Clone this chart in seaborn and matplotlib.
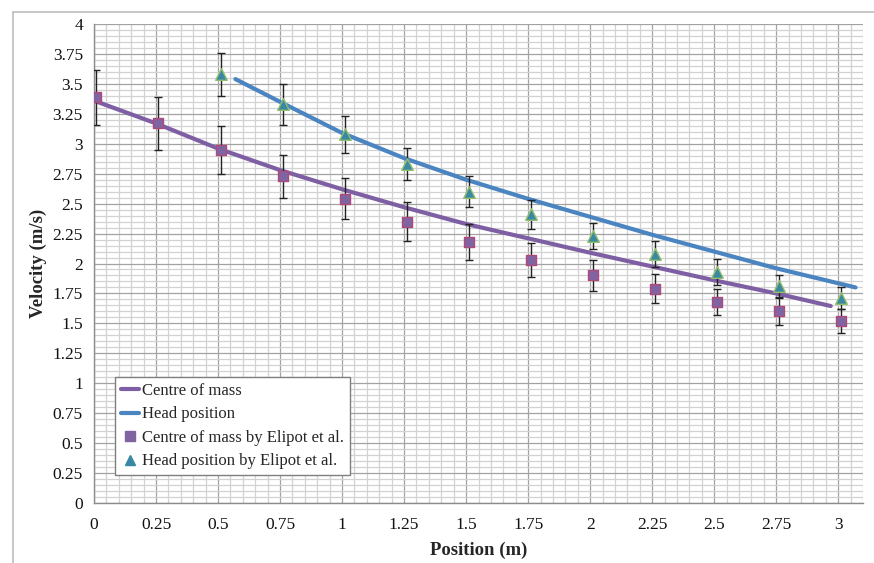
import numpy as np
import pandas as pd
import matplotlib
matplotlib.use("Agg")
import matplotlib.pyplot as plt
from matplotlib.lines import Line2D
from matplotlib.ticker import MultipleLocator
import seaborn as sns

# Model curves
com_x = [0.0, 0.25, 0.5, 0.75, 1.0, 1.25, 1.5, 1.75, 2.0, 2.25, 2.5, 2.75, 2.97]
com_v = [3.36, 3.17, 2.96, 2.78, 2.62, 2.47, 2.33, 2.21, 2.09, 1.975, 1.86, 1.75, 1.645]
head_x = [0.57, 0.75, 1.0, 1.25, 1.5, 1.75, 2.0, 2.25, 2.5, 2.75, 3.07]
head_v = [3.54, 3.35, 3.09, 2.88, 2.70, 2.54, 2.39, 2.24, 2.10, 1.96, 1.80]

# Measurements by Elipot et al.
com_obs_x = [0.01, 0.26, 0.51, 0.76, 1.01, 1.26, 1.51, 1.76, 2.01, 2.26, 2.51, 2.76, 3.01]
com_obs_v = [3.39, 3.17, 2.95, 2.73, 2.54, 2.35, 2.18, 2.03, 1.90, 1.79, 1.68, 1.60, 1.52]
com_obs_err = [0.23, 0.22, 0.20, 0.18, 0.17, 0.16, 0.15, 0.14, 0.13, 0.12, 0.11, 0.11, 0.10]
head_obs_x = [0.51, 0.76, 1.01, 1.26, 1.51, 1.76, 2.01, 2.26, 2.51, 2.76, 3.01]
head_obs_v = [3.58, 3.33, 3.08, 2.83, 2.60, 2.41, 2.23, 2.08, 1.93, 1.81, 1.71]
head_obs_err = [0.18, 0.17, 0.155, 0.135, 0.13, 0.12, 0.11, 0.11, 0.11, 0.09, 0.09]

x_ticks = [0, 0.25, 0.5, 0.75, 1, 1.25, 1.5, 1.75, 2, 2.25, 2.5, 2.75, 3]
x_tick_labels = ["0", "0.25", "0.5", "0.75", "1", "1.25", "1.5", "1.75", "2", "2.25", "2.5", "2.75", "3"]
y_ticks = [0, 0.25, 0.5, 0.75, 1, 1.25, 1.5, 1.75, 2, 2.25, 2.5, 2.75, 3, 3.25, 3.5, 3.75, 4]
y_tick_labels = ["0", "0.25", "0.5", "0.75", "1", "1.25", "1.5", "1.75", "2", "2.25", "2.5", "2.75", "3", "3.25", "3.5", "3.75", "4"]

PURPLE = "#7f5fa3"
BLUE = "#4a85c2"
SQ_FILL = "#8064a2"
SQ_EDGE = "#b0487a"
TRI_FILL = "#3a88a4"
TRI_EDGE = "#8fbf6a"

sns.set_theme(style="white")
plt.rcParams["font.family"] = ["Liberation Serif", "DejaVu Serif"]

W, H = 874, 563
fig = plt.figure(figsize=(W / 100, H / 100), dpi=100)
ax = fig.add_axes([94 / W, (H - 503) / H, (863 - 94) / W, (503 - 24) / H])

# Outer chart frame (top and left edges)
fig.add_artist(Line2D([13 / W, 1.0], [1 - 12 / H, 1 - 12 / H], color="#bdbdbd", lw=1.2))
fig.add_artist(Line2D([13 / W, 13 / W], [0, 1 - 12 / H], color="#bdbdbd", lw=1.2))

com_df = pd.DataFrame({"x": com_x, "v": com_v})
head_df = pd.DataFrame({"x": head_x, "v": head_v})
com_obs = pd.DataFrame({"x": com_obs_x, "v": com_obs_v, "e": com_obs_err})
head_obs = pd.DataFrame({"x": head_obs_x, "v": head_obs_v, "e": head_obs_err})

sns.lineplot(data=com_df, x="x", y="v", ax=ax, color=PURPLE, lw=3, zorder=3, sort=True)
sns.lineplot(data=head_df, x="x", y="v", ax=ax, color=BLUE, lw=3, zorder=3, sort=True)

ax.errorbar(com_obs["x"], com_obs["v"], yerr=com_obs["e"], fmt="none",
            ecolor="#222222", elinewidth=1, capsize=3, capthick=1, zorder=4)
ax.errorbar(head_obs["x"], head_obs["v"], yerr=head_obs["e"], fmt="none",
            ecolor="#222222", elinewidth=1, capsize=3, capthick=1, zorder=4)

sns.scatterplot(data=com_obs, x="x", y="v", ax=ax, marker="s", s=60,
                color=SQ_FILL, edgecolor=SQ_EDGE, linewidth=1, zorder=5)
sns.scatterplot(data=head_obs, x="x", y="v", ax=ax, marker="^", s=70,
                color=TRI_FILL, edgecolor=TRI_EDGE, linewidth=1, zorder=5)

ax.set_xlim(0, 3.1)
ax.set_ylim(0, 4)
ax.set_xticks(x_ticks)
ax.set_xticklabels(x_tick_labels)
ax.set_yticks(y_ticks)
ax.set_yticklabels(y_tick_labels)
ax.xaxis.set_minor_locator(MultipleLocator(0.05))
ax.yaxis.set_minor_locator(MultipleLocator(0.05))
ax.grid(which="minor", color="#d2d2d2", lw=0.9, zorder=0)
ax.grid(which="major", color="#a3a3a3", lw=0.9, zorder=0)
ax.set_axisbelow(True)

for side in ("top", "right"):
    ax.spines[side].set_visible(False)
for side in ("left", "bottom"):
    ax.spines[side].set_color("#8c8c8c")
    ax.spines[side].set_linewidth(1)

ax.tick_params(axis="both", which="major", direction="out", length=5, width=1,
               color="#8c8c8c", labelsize=12.5, labelcolor="#111111", pad=3)
ax.tick_params(axis="x", which="major", pad=5)
ax.tick_params(axis="both", which="minor", length=0)

ax.set_xlabel("Position (m)", fontsize=13.5, fontweight="bold", labelpad=6)
ax.set_ylabel("Velocity (m/s)", fontsize=13.5, fontweight="bold", labelpad=4)

handles = [
    Line2D([], [], color=PURPLE, lw=3),
    Line2D([], [], color=BLUE, lw=3),
    Line2D([], [], marker="s", ls="none", color=SQ_FILL, markersize=7),
    Line2D([], [], marker="^", ls="none", color=TRI_FILL, markersize=7),
]
labels = ["Centre of mass", "Head position",
          "Centre of mass by Elipot et al.", "Head position by Elipot et al."]
leg = ax.legend(handles, labels, loc="lower left", bbox_to_anchor=(0.027, 0.058),
                fontsize=12, frameon=True, fancybox=False, framealpha=1,
                edgecolor="#7f7f7f", handlelength=1.1, handletextpad=0.2,
                borderpad=0.35, labelspacing=0.45, borderaxespad=0)
leg.get_frame().set_linewidth(1)
leg.set_zorder(10)

fig.savefig("out.png", dpi=100)
